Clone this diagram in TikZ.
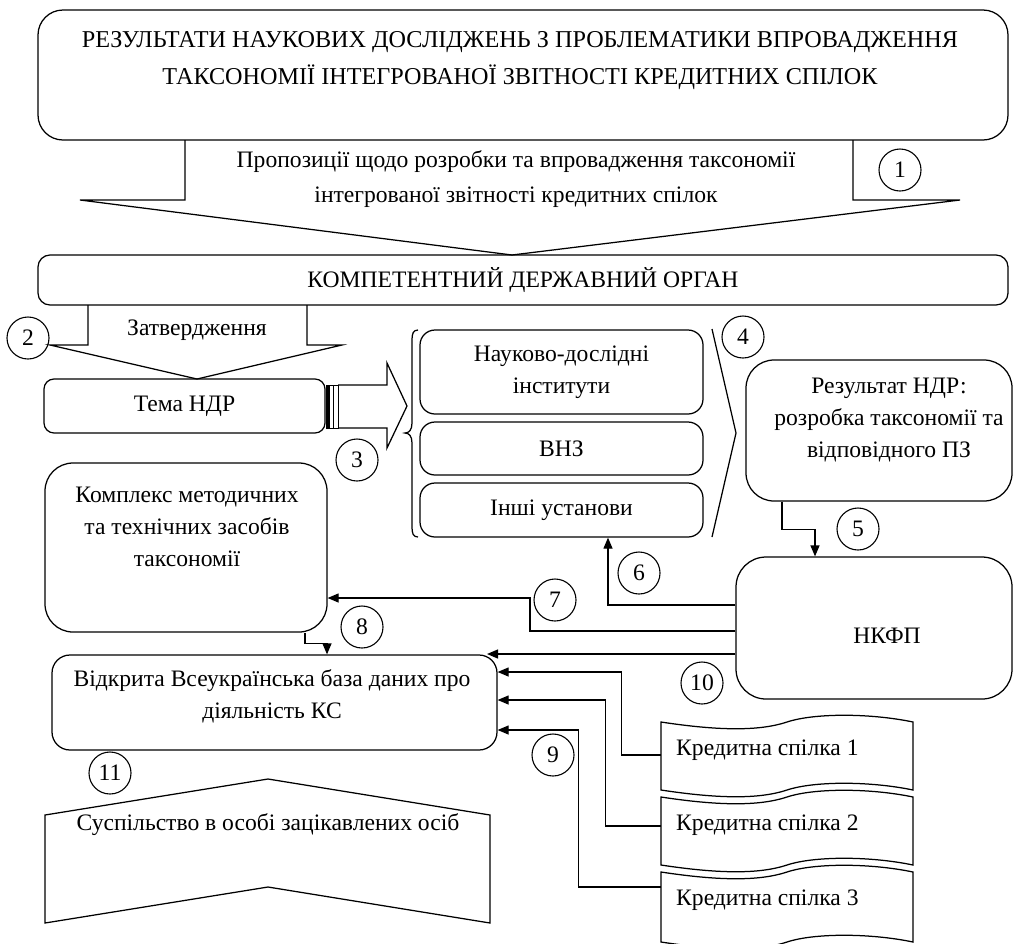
\documentclass[tikz,border=0pt]{standalone}
\usepackage{fontspec}
\setmainfont{Liberation Serif}
\usetikzlibrary{arrows.meta}
\newcommand\dfont{\fontsize{23.6}{32}\selectfont}
\newcommand\tfont{\fontsize{24.2}{37}\selectfont}
\tikzset{
  ln/.style={line width=1.25pt, draw=black},
  rbox/.style={draw, line width=1.25pt, rounded corners=#1, inner sep=0pt},
  num/.style={draw, circle, minimum size=42pt, inner sep=0pt, line width=1.1pt, font=\dfont},
  txt/.style={align=center, inner sep=0pt, font=\dfont},
  arr/.style={-{Triangle[length=11pt,width=9pt]}, line width=1.25pt},
}
\begin{document}
\begin{tikzpicture}[x=1pt,y=-1pt]
\useasboundingbox[fill=white] (0,0) rectangle (1016,943);

% top box
\node[rbox=25, minimum width=970pt, minimum height=130pt] (top) at (523,75) {};
\node[align=center, inner sep=0pt, font=\tfont] (toptxt) at (520,61) {РЕЗУЛЬТАТИ НАУКОВИХ ДОСЛІДЖЕНЬ З ПРОБЛЕМАТИКИ ВПРОВАДЖЕННЯ\\ТАКСОНОМІЇ ІНТЕГРОВАНОЇ ЗВІТНОСТІ КРЕДИТНИХ СПІЛОК};

% arrow 1
\draw[ln, line join=miter] (185,140) -- (185,200) -- (80,200) -- (512,255) -- (960,200) -- (853,200) -- (853,140);
\node[align=center, inner sep=0pt, font=\fontsize{23.6}{35}\selectfont] (a1txt) at (516,179) {Пропозиції щодо розробки та впровадження таксономії\\інтегрованої звітності кредитних спілок};
\node[num] (n1) at (900,170) {1};

% competent body
\node[rbox=12, minimum width=970pt, minimum height=50pt, font=\dfont] (komp) at (523,280) {КОМПЕТЕНТНИЙ ДЕРЖАВНИЙ ОРГАН};

% arrow 2
\draw[ln] (88,305) -- (88,345) -- (50,345) -- (197,379) -- (342,345) -- (307,345) -- (307,305);
\node[txt] (a2txt) at (197,330) {Затвердження};
\node[num] (n2) at (28,338) {2};

% theme
\node[rbox=10, minimum width=281pt, minimum height=54pt, font=\dfont] (tema) at (184.5,406) {Тема НДР};

% striped arrow 3
\fill (326,385) rectangle (329.5,428);
\draw[line width=0.9pt] (326,385) rectangle (338,428);
\draw[line width=0.9pt] (333,385) -- (333,428);
\draw[ln, line join=miter] (338,385) -- (387,385) -- (387,363) -- (407,406) -- (387,448) -- (387,428) -- (338,428);
\node[num] (n3) at (357,460) {3};

% brace
\draw[ln] (418,330) .. controls (413,330) and (412,334) .. (412,340) -- (412,423) .. controls (412,430) and (409,433) .. (405,433) .. controls (409,433) and (412,436) .. (412,443) -- (412,527) .. controls (412,533) and (413,537) .. (418,537);

% institutions
\node[rbox=15, minimum width=283pt, minimum height=84pt, txt] (ndi) at (561.5,372) {Науково-дослідні\\інститути};
\node[rbox=15, minimum width=283pt, minimum height=53pt, txt] (vnz) at (561.5,448.5) {ВНЗ};
\node[rbox=15, minimum width=283pt, minimum height=54pt, txt] (inshi) at (561.5,510) {Інші установи};

% chevron 4
\draw[ln] (712,329) -- (736,433) -- (712,537);
\node[num] (n4) at (743,337) {4};

% result
\node[rbox=28, minimum width=266pt, minimum height=141pt] (res) at (879,430.5) {};
\node[txt] (restxt) at (889,420) {Результат НДР:\\розробка таксономії та\\відповідного ПЗ};

% NKFP
\node[rbox=30, minimum width=276pt, minimum height=142pt] (nkfp) at (874,628) {};
\node[txt] (nkfptxt) at (887,636) {НКФП};

% arrow 5
\draw[arr] ([xshift=-97pt]res.south) -- ++(0,28) -| ([xshift=-59pt]nkfp.north);
\node[num] (n5) at (858,529) {5};

% complex
\node[rbox=28, minimum width=282pt, minimum height=169pt] (kompl) at (186,547.5) {};
\node[txt] (kompltxt) at (187,527) {Комплекс методичних\\та технічних засобів\\таксономії};

% database
\node[rbox=18, minimum width=445pt, minimum height=95pt] (db) at (274.5,702.5) {};
\node[txt] (dbtxt) at (272,696) {Відкрита Всеукраїнська база даних про\\діяльність КС};
\coordinate (dbtr) at (487,654);

% arrows 6,7,8,10
\draw[arr] (nkfp.west |- 0,605) -| ([xshift=46.5pt]inshi.south);
\node[num] (n6) at (639,573) {6};
\draw[arr] (nkfp.west |- 0,631) -| (530,598) -- (kompl.east |- 0,598);
\node[num] (n7) at (555,600) {7};
\draw[arr] ([xshift=119pt]kompl.south) -- ++(0,11) -| ([xshift=52.5pt]db.north);
\node[num] (n8) at (362,627) {8};
\draw[arr] (nkfp.west |- 0,654) -- (dbtr);
\node[num] (n10) at (702,683) {10};

% credit unions
\node[inner sep=0pt, minimum width=252pt, minimum height=67pt] (cu1) at (787,756.5) {};
\node[inner sep=0pt, minimum width=252pt, minimum height=68pt] (cu2) at (787,831) {};
\node[inner sep=0pt, minimum width=252pt, minimum height=70pt] (cu3) at (787,907) {};
\foreach \t/\b in {722/790, 797/865, 872/942}{
  \draw[ln] (661,\t) .. controls (720,\t+9) and (760,\t+9) .. (787,\t) .. controls (814,\t-9) and (870,\t-9) .. (913,\t)
    -- (913,\b) .. controls (870,\b-9) and (814,\b-9) .. (787,\b) .. controls (760,\b+9) and (720,\b+9) .. (661,\b) -- cycle;
}
\node[txt, anchor=west] (cu1txt) at (676,750) {Кредитна спілка 1};
\node[txt, anchor=west] (cu2txt) at (676,825) {Кредитна спілка 2};
\node[txt, anchor=west] (cu3txt) at (676,900) {Кредитна спілка 3};

\draw[arr] ([yshift=1.5pt]cu1.west) -- ++(-39,0) |- (db.east |- 0,672);
\draw[arr] ([yshift=5pt]cu2.west) -- ++(-55,0) |- (db.east |- 0,700);
\draw[arr] ([yshift=20pt]cu3.west) -- ++(-82,0) |- (db.east |- 0,730);
\node[num] (n9) at (553,755) {9};

% society
\draw[ln] (45,815) -- (268,779) -- (490,815) -- (490,923) -- (268,887) -- (45,923) -- cycle;
\node[txt] (soctxt) at (268,825) {Суспільство в особі зацікавлених осіб};
\node[num] (n11) at (110,773) {11};
\end{tikzpicture}
\end{document}
